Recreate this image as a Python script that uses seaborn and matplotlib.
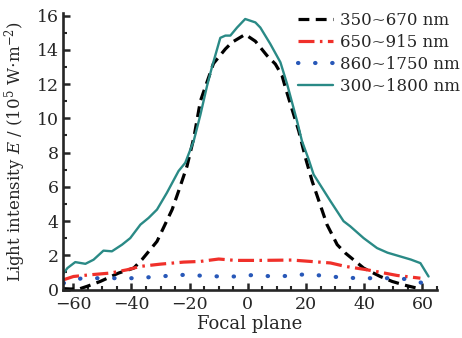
import numpy as np
import pandas as pd
import matplotlib
matplotlib.use("Agg")
import matplotlib.pyplot as plt
import seaborn as sns
from matplotlib.ticker import MultipleLocator

# ---- data ----
x_black = [-63.5, -61, -58, -55.3, -50.7, -44.4, -39.2, -36.4, -31.2, -26, -23.8, -20.9,
           -18.5, -16.3, -11.8, -7.7, -5.4, -0.9, 2.6, 6.6, 9.45, 11.75, 12.9, 17.5,
           19.8, 22.1, 27.2, 30.7, 33.5, 39.8, 45.5, 49.6, 54, 58.1]
y_black = [0.05, 0.03, 0.03, 0.18, 0.47, 0.96, 1.25, 1.74, 2.81, 4.67, 5.74, 7.2,
           8.9, 11.0, 13.2, 14.05, 14.44, 14.9, 14.5, 13.66, 13.17, 12.5, 11.8, 9.26,
           7.7, 6.33, 3.79, 2.62, 2.13, 1.25, 0.76, 0.47, 0.25, 0.08]

x_red = [-63.3, -59.9, -54.1, -47.3, -41.5, -36.9, -30.1, -22.1, -16.3, -10, -4.3, 4.3,
         15.2, 21.5, 28.4, 33.5, 41, 51.3, 59.3]
y_red = [0.57, 0.76, 0.86, 0.96, 1.15, 1.35, 1.48, 1.6, 1.64, 1.78, 1.70, 1.70,
         1.72, 1.64, 1.55, 1.35, 1.15, 0.82, 0.66]

x_blue = [-63.3, -57, -51.3, -45, -39.2, -33.5, -27.2, -21.5, -15.2, -9.45, -3.7, 2.6,
          8.3, 14.6, 20.3, 26, 32.4, 38.1, 44.4, 50.1, 55, 61.6]
y_blue = [0.37, 0.66, 0.66, 0.66, 0.66, 0.72, 0.80, 0.86, 0.80, 0.76, 0.76, 0.86,
          0.76, 0.80, 0.90, 0.80, 0.70, 0.66, 0.66, 0.66, 0.6, 0.31]

x_teal = [-63.5, -62, -59.3, -55.8, -53, -49.6, -46.7, -43.2, -40.4, -36.9, -34.1, -31.2,
          -27.8, -23.8, -21.5, -18.6, -16.3, -14, -12.3, -9.45, -7.7, -6.0, -3.7, -0.9,
          2.6, 4.3, 7.7, 11.2, 13.5, 16.9, 18.6, 20.9, 22.6, 28.4, 32.9, 35.2, 39.8,
          44.4, 48, 52.4, 56, 59.3, 62.1]
y_teal = [0.9, 1.25, 1.6, 1.5, 1.74, 2.27, 2.23, 2.62, 3.0, 3.79, 4.18, 4.67,
          5.65, 6.92, 7.4, 8.67, 10.2, 11.9, 13.0, 14.7, 14.83, 14.83, 15.3, 15.8,
          15.6, 15.3, 14.35, 13.27, 12.0, 9.85, 8.67, 7.6, 6.72, 5.16, 3.99, 3.69, 3.0,
          2.42, 2.15, 1.93, 1.75, 1.54, 0.76]

labels = ["350~670 nm", "650~915 nm", "860~1750 nm", "300~1800 nm"]

# ---- style ----
sns.set_style("ticks")
plt.rcParams["font.family"] = ["DejaVu Serif"]
plt.rcParams["mathtext.fontset"] = "dejavuserif"
plt.rcParams["font.size"] = 12

fig = plt.figure(figsize=(4.62, 3.38), dpi=100)
ax = fig.add_axes([63 / 462, 1 - 289.5 / 338, (437 - 63) / 462, (289.5 - 13) / 338])

sns.lineplot(x=x_black, y=y_black, ax=ax, color="black", lw=2.3,
             linestyle=(0, (3.4, 2.0)), label=labels[0], sort=False)
sns.lineplot(x=x_red, y=y_red, ax=ax, color="#f0302a", lw=2.3,
             linestyle=(0, (5, 1.7, 0.8, 1.7)), label=labels[1], sort=False)
sns.lineplot(x=x_blue, y=y_blue, ax=ax, color="#2858b8", lw=3.0,
             linestyle=(0, (0.1, 4.0)), dash_capstyle="round", label=labels[2], sort=False)
sns.lineplot(x=x_teal, y=y_teal, ax=ax, color="#2a8a86", lw=1.7,
             label=labels[3], sort=False)

ax.set_xlim(-63.5, 65)
ax.set_ylim(0, 16.15)
ax.xaxis.set_major_locator(MultipleLocator(20))
ax.xaxis.set_minor_locator(MultipleLocator(5))
ax.yaxis.set_major_locator(MultipleLocator(2))
ax.yaxis.set_minor_locator(MultipleLocator(1))
ax.set_xticks([-60, -40, -20, 0, 20, 40, 60])
ax.set_xticklabels(["\u221260", "\u221240", "\u221220", "0", "20", "40", "60"])

sns.despine(ax=ax)
for s in ["left", "bottom"]:
    ax.spines[s].set_linewidth(1.9)
ax.tick_params(which="major", direction="in", length=5, width=1.8, labelsize=12.5)
ax.tick_params(axis="y", which="major", pad=3)
ax.tick_params(axis="x", which="major", pad=5)
ax.tick_params(which="minor", direction="in", length=3, width=1.5)

ax.set_xlabel("Focal plane", fontsize=13, labelpad=1)
ax.set_ylabel(r"Light intensity $\it{E}$ / (10$^5$ W$\cdot$m$^{-2}$)", fontsize=12, labelpad=6)

ax.legend(loc="upper left", bbox_to_anchor=(298 / 462, 1 - 12 / 338),
          bbox_transform=fig.transFigure, frameon=False, borderpad=0, borderaxespad=0,
          handlelength=2.1, handletextpad=0.4, labelspacing=0.3, fontsize=12)

fig.savefig("out.png", dpi=100)
